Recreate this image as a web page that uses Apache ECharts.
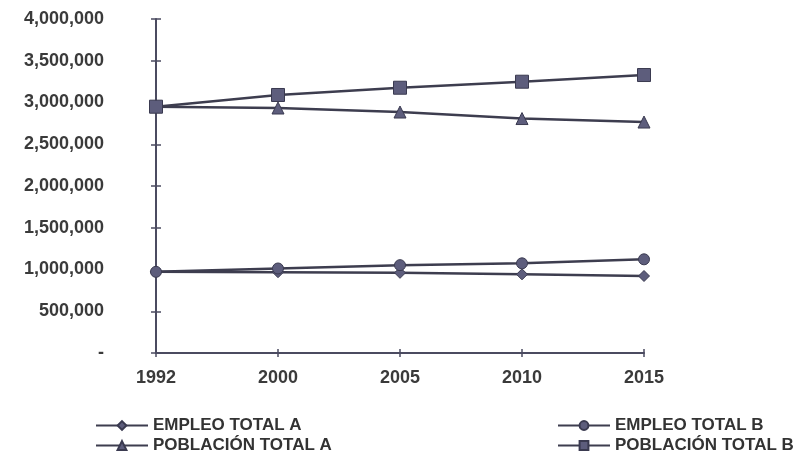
<!DOCTYPE html>
<html>
<head>
<meta charset="utf-8">
<script src="https://cdn.jsdelivr.net/npm/echarts@6/dist/echarts.min.js"></script>
<style>
  html, body { margin: 0; padding: 0; background: #ffffff; }
  #chart { width: 806px; height: 459px; }
</style>
</head>
<body>
<div id="chart"></div>
<script>
// Years on the horizontal axis
var years = ['1992', '2000', '2005', '2010', '2015'];

// Series values (persons)
var empleoTotalA = [972000, 968000, 960000, 942000, 922000];
var empleoTotalB = [972000, 1012000, 1052000, 1074000, 1122000];
var poblacionTotalA = [2950000, 2934000, 2886000, 2808000, 2766000];
var poblacionTotalB = [2950000, 3090000, 3177000, 3249000, 3329000];

// Vertical axis tick labels, from 0 upward
var yTickLabels = ['-', '500,000', '1,000,000', '1,500,000', '2,000,000',
                   '2,500,000', '3,000,000', '3,500,000', '4,000,000'];

var FONT = '"Liberation Sans", Arial, sans-serif';
var INK = '#3d3d4f';
var MARK = '#5d5d7c';
var AXIS = '#4b4b60';

function yLabel(v) {
  var i = Math.round(v / 500000);
  return yTickLabels[i] !== undefined ? yTickLabels[i] : '';
}

function lineSeries(name, data, symbol, size) {
  return {
    name: name,
    type: 'line',
    data: data,
    symbol: symbol,
    symbolSize: size,
    showAllSymbol: true,
    lineStyle: { color: INK, width: 2.5 },
    itemStyle: { color: MARK, borderColor: '#3a3a50', borderWidth: 1 },
    emphasis: { disabled: true },
    animation: false,
    z: 3
  };
}

function legendBlock(names, left) {
  return {
    data: names,
    orient: 'vertical',
    left: left,
    top: 417,
    padding: 0,
    itemWidth: 52,
    itemHeight: 11,
    itemGap: 3,
    itemTextGap: 4,
    textStyle: { color: '#333333', fontFamily: FONT, fontSize: 17, fontWeight: 'bold' },
    selectedMode: false
  };
}

var chart = echarts.init(document.getElementById('chart'), null, { renderer: 'canvas' });

chart.setOption({
  backgroundColor: '#ffffff',
  animation: false,
  grid: { left: 156, right: 162, top: 19, bottom: 106, containLabel: false },
  xAxis: [
    {
      type: 'category',
      data: years,
      boundaryGap: false,
      axisLine: { show: true, lineStyle: { color: AXIS, width: 2 } },
      axisTick: { show: true, alignWithLabel: true, length: 4, lineStyle: { color: AXIS, width: 1.5 } },
      axisLabel: { color: '#3a3a3a', fontFamily: FONT, fontSize: 18, fontWeight: 'bold', margin: 16 },
      splitLine: { show: false }
    },
    {
      // inner half of the crossing tick marks
      type: 'category',
      data: years,
      boundaryGap: false,
      position: 'bottom',
      axisLine: { show: false },
      axisTick: { show: true, inside: true, length: 4, lineStyle: { color: AXIS, width: 1.5 } },
      axisLabel: { show: false },
      splitLine: { show: false }
    }
  ],
  yAxis: [
    {
      type: 'value',
      min: 0,
      max: 4000000,
      interval: 500000,
      axisLine: { show: true, lineStyle: { color: AXIS, width: 2 } },
      axisTick: { show: true, length: 5, lineStyle: { color: AXIS, width: 1.5 } },
      axisLabel: {
        color: '#3a3a3a', fontFamily: FONT, fontSize: 18, fontWeight: 'bold',
        margin: 52, formatter: yLabel
      },
      splitLine: { show: false }
    },
    {
      // inner half of the crossing tick marks
      type: 'value',
      min: 0,
      max: 4000000,
      interval: 500000,
      position: 'left',
      axisLine: { show: false },
      axisTick: { show: true, inside: true, length: 5, lineStyle: { color: AXIS, width: 1.5 } },
      axisLabel: { show: false },
      splitLine: { show: false }
    }
  ],
  legend: [
    legendBlock(['EMPLEO TOTAL A', 'POBLACIÓN TOTAL A'], 95),
    legendBlock(['EMPLEO TOTAL B', 'POBLACIÓN TOTAL B'], 557)
  ],
  series: [
    lineSeries('EMPLEO TOTAL A', empleoTotalA, 'diamond', 11),
    lineSeries('EMPLEO TOTAL B', empleoTotalB, 'circle', 11),
    lineSeries('POBLACIÓN TOTAL A', poblacionTotalA, 'triangle', 12),
    lineSeries('POBLACIÓN TOTAL B', poblacionTotalB, 'rect', 13)
  ]
});
</script>
</body>
</html>
